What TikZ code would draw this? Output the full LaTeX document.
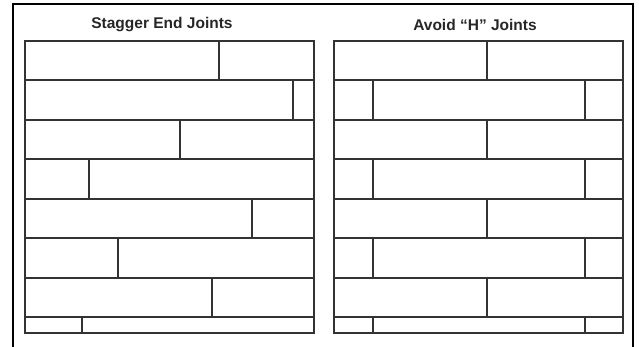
\documentclass[tikz,border=0pt]{standalone}
\usepackage{fontspec}
\setmainfont{Liberation Sans}
\tikzset{
  title/.style={font=\bfseries\fontsize{15.5}{18}\selectfont, text=black!85},
  board/.style={line width=2.7pt, draw=black!80}
}
\begin{document}
\begin{tikzpicture}[x=1pt, y=-1pt]
\useasboundingbox (0,0) rectangle (639,347);
% Frame
\draw[line width=2pt] (13,352) -- (13,4) -- (633,4) -- (633,352);
% Panel A: stagger
\node[title] (stagger) at (162,25) {Stagger End Joints};
\draw[board] (25,41) rectangle (314,333);
\foreach \y in {80,120,159,199,238,278,317} { \draw[board] (25,\y) -- (314,\y); }
\foreach \x/\a/\b in {219/41/80, 293/80/120, 180/120/159, 89/159/199, 252/199/238, 118/238/278, 212/278/317, 82/317/333} { \draw[board] (\x,\a) -- (\x,\b); }
% Panel B: avoid H
\node[title] (avoidh) at (475,25) {Avoid “H” Joints};
\draw[board] (334,41) rectangle (623,333);
\foreach \y in {80,120,159,199,238,278,317} { \draw[board] (334,\y) -- (623,\y); }
\foreach \a/\b in {41/80, 120/159, 199/238, 278/317} { \draw[board] (487,\a) -- (487,\b); }
\foreach \a/\b in {80/120, 159/199, 238/278, 317/333} { \draw[board] (373,\a) -- (373,\b); \draw[board] (585,\a) -- (585,\b); }
\end{tikzpicture}
\end{document}
